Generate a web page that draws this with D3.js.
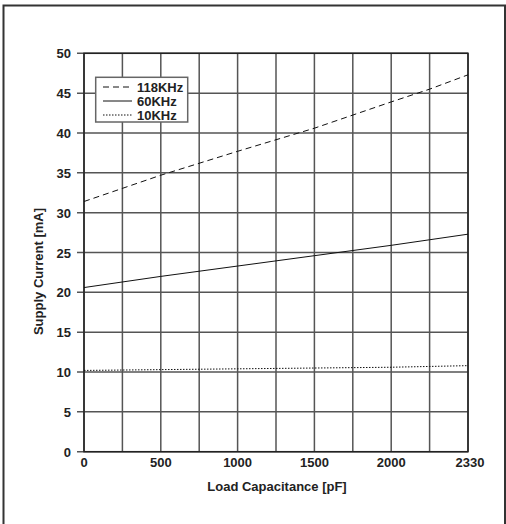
<!DOCTYPE html>
<html>
<head>
<meta charset="utf-8">
<script src="https://cdn.jsdelivr.net/npm/d3@7"></script>
<style>
    body{margin:0;background:#fff;}
    text{font-family:"Liberation Sans",Arial,sans-serif;font-weight:bold;fill:#222;}
</style>
</head>
<body>
<svg id="chart" width="506" height="524"></svg>
<script>
// load capacitance [pF]
let capacitance = [0, 500, 1000, 1500, 2000, 2165, 2330];
// supply current [mA] per clock frequency
let f118 = [31.4, 34.7, 37.7, 40.6, 43.9, 45.5, 47.3];
let f60 = [20.6, 22.0, 23.3, 24.6, 25.9, 26.6, 27.3];
let f10 = [10.2, 10.3, 10.4, 10.5, 10.6, 10.7, 10.8];
let seriesNames = ["118KHz", "60KHz", "10KHz"];
let xGrid = [0, 250, 500, 750, 1000, 1250, 1500, 1750, 2000, 2165, 2330];
let xTickLabels = [0, 500, 1000, 1500, 2000, 2330];
let yTicks = [0, 5, 10, 15, 20, 25, 30, 35, 40, 45, 50];

let svg = d3.select("#chart");
let [pLeft, pRight, pTop, pBottom] = [84, 468, 53.3, 451.7];
let step = (pRight - pLeft) / 10;
let fontSize = "13px";

// grid is evenly spaced, last cell squeezed into 2000..2330
let x = d3.scaleLinear()
    .domain([0, 2000, 2330])
    .range([pLeft, pLeft + 8 * step, pRight]);
let y = d3.scaleLinear()
    .domain([0, 50])
    .range([pBottom, pTop]);

// page frame
svg.append("path")
    .attr("d", "M3.5,524 L3.5,5.5 L505,5.5 L505,524")
    .style("fill", "none")
    .style("stroke", "#333")
    .style("stroke-width", 2);

let grid = svg.append("g").attr("id", "grid");
grid.selectAll(".vgrid")
    .data(xGrid)
    .enter().append("line")
    .attr("class", "vgrid")
    .attr("x1", d => x(d)).attr("x2", d => x(d))
    .attr("y1", pTop).attr("y2", pBottom)
    .style("stroke", "#555")
    .style("stroke-width", 1.5);
grid.selectAll(".hgrid")
    .data(yTicks)
    .enter().append("line")
    .attr("class", "hgrid")
    .attr("x1", pLeft - 7).attr("x2", pRight)
    .attr("y1", d => y(d)).attr("y2", d => y(d))
    .style("stroke", "#555")
    .style("stroke-width", 1.5);

// plot frame
svg.append("rect")
    .attr("x", pLeft).attr("y", pTop)
    .attr("width", pRight - pLeft).attr("height", pBottom - pTop)
    .style("fill", "none")
    .style("stroke", "#222")
    .style("stroke-width", 1.5);

// y tick labels
svg.selectAll(".yLabel")
    .data(yTicks)
    .enter().append("text")
    .attr("class", "yLabel")
    .attr("x", 71)
    .attr("y", d => y(d) + 5)
    .style("font-size", fontSize)
    .style("text-anchor", "end")
    .text(d => d);

// x tick labels
svg.selectAll(".xLabel")
    .data(xTickLabels)
    .enter().append("text")
    .attr("class", "xLabel")
    .attr("x", d => x(d) + (d === 2330 ? 2 : 0))
    .attr("y", 467)
    .style("font-size", fontSize)
    .style("text-anchor", "middle")
    .text(d => d);

svg.append("text")
    .attr("x", (pLeft + pRight) / 2 + 1)
    .attr("y", 491)
    .style("font-size", fontSize)
    .style("text-anchor", "middle")
    .text("Load Capacitance [pF]");

svg.append("text")
    .attr("transform", "translate(43," + 271.5 + ") rotate(-90)")
    .style("font-size", fontSize)
    .style("text-anchor", "middle")
    .text("Supply Current [mA]");

// curves
let dashes = ["6,4", null, "1.5,1.5"];
let line = d3.line()
    .x((d, i) => x(capacitance[i]))
    .y(d => y(d));
svg.selectAll(".curve")
    .data([f118, f60, f10])
    .enter().append("path")
    .attr("class", "curve")
    .attr("d", d => line(d))
    .style("fill", "none")
    .style("stroke", "#111")
    .style("stroke-width", 1)
    .style("stroke-dasharray", (d, i) => dashes[i]);

// legend
let legend = svg.append("g").attr("id", "legend");
legend.append("rect")
    .attr("x", 95.7).attr("y", 77.3)
    .attr("width", 92).attr("height", 44.7)
    .style("fill", "#fff")
    .style("stroke", "#666")
    .style("stroke-width", 1.5);
seriesNames.forEach((name, i) => {
    let ly = 87 + i * 14;
    legend.append("line")
        .attr("x1", 103).attr("x2", 132)
        .attr("y1", ly).attr("y2", ly)
        .style("stroke", "#111")
        .style("stroke-width", 1)
        .style("stroke-dasharray", dashes[i]);
    legend.append("text")
        .attr("x", 137)
        .attr("y", ly + 5)
        .style("font-size", fontSize)
        .text(name);
});
</script>
</body>
</html>
